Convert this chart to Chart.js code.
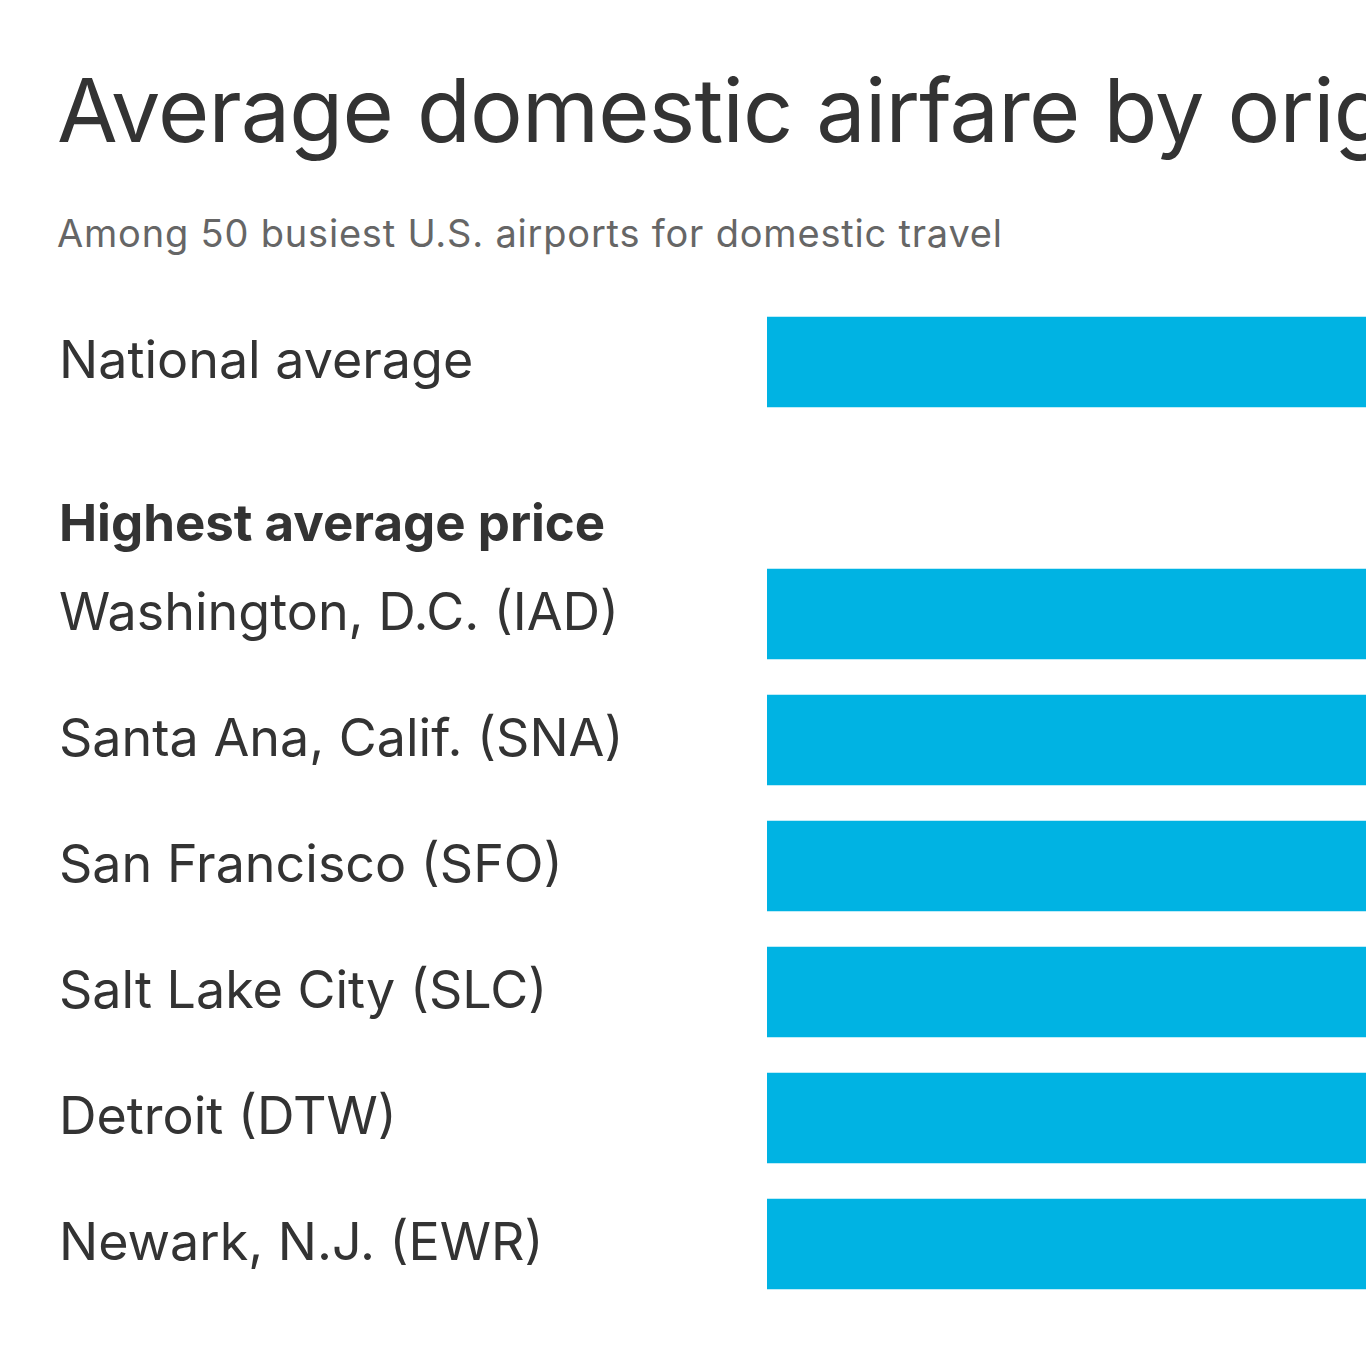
<!DOCTYPE html>
<html>
<head>
<meta charset="utf-8">
<script src="https://cdn.jsdelivr.net/npm/chart.js@4"></script>
<style>
  html, body { margin: 0; padding: 0; background: #fff; }
  body { width: 1366px; height: 1366px; overflow: hidden; position: relative; font-family: Inter, sans-serif; }
  .title { position: absolute; left: 57px; top: 66px; margin: 0; font-size: 88px; line-height: 88px; font-weight: 400; color: #333; white-space: nowrap; letter-spacing: -0.8px; }
  .subtitle { position: absolute; left: 57px; top: 214px; margin: 0; font-size: 38px; line-height: 38px; color: #666; white-space: nowrap; letter-spacing: 0.8px; }
  .wrap { position: absolute; left: 0; top: 0; width: 2400px; height: 1366px; }
</style>
</head>
<body>
<h1 class="title">Average domestic airfare by origin airport</h1>
<p class="subtitle">Among 50 busiest U.S. airports for domestic travel</p>
<div class="wrap"><canvas id="fareChart"></canvas></div>
<script>
// airports and fares (bars run past the right edge in the source picture)
const airports = ['National average', '', 'Washington, D.C. (IAD)', 'Santa Ana, Calif. (SNA)', 'San Francisco (SFO)', 'Salt Lake City (SLC)', 'Detroit (DTW)', 'Newark, N.J. (EWR)'];
const fares = [380, null, 540, 510, 500, 480, 470, 460];
const groupHeader = 'Highest average price';

const headerPlugin = {
    id: 'groupHeader',
    afterDraw(chart) {
        const y = chart.scales.y.getPixelForValue(1);
        const c = chart.ctx;
        c.save();
        c.font = 'bold 51px Inter';
        c.fillStyle = '#333';
        c.textAlign = 'left';
        c.textBaseline = 'alphabetic';
        c.fillText(groupHeader, 59, y + 53);
        c.restore();
    }
};

Chart.defaults.font.family = 'Inter';

const ctx = document.getElementById('fareChart').getContext('2d');
const fareChart = new Chart(ctx, {
    type: 'bar',
    data: {
        labels: airports,
        datasets: [{
            data: fares,
            backgroundColor: '#00b3e3',
            borderWidth: 0,
            barPercentage: 0.719,
            categoryPercentage: 1
        }]
    },
    options: {
        indexAxis: 'y',
        responsive: true,
        maintainAspectRatio: false,
        animation: false,
        layout: { padding: { left: 59, top: 299, bottom: 59, right: 0 } },
        plugins: {
            legend: { display: false },
            tooltip: { enabled: false }
        },
        scales: {
            x: { display: false, min: 0, max: 600 },
            y: {
                grid: { display: false },
                border: { display: false },
                afterFit: function(scale) { scale.width = 708; },
                ticks: {
                    autoSkip: false,
                    crossAlign: 'far',
                    padding: 0,
                    color: '#333',
                    font: { size: 52 }
                }
            }
        }
    },
    plugins: [headerPlugin]
});
</script>
</body>
</html>
